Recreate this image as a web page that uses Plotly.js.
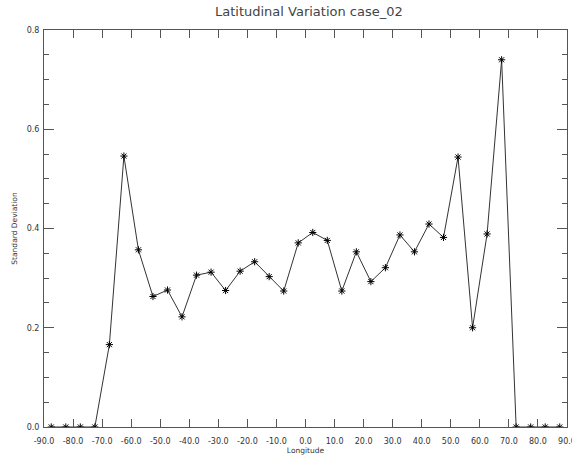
<!DOCTYPE html>
<html>
<head>
<meta charset="utf-8">
<script src="https://cdn.plot.ly/plotly-3.0.1.min.js"></script>
<style>html,body{margin:0;padding:0;background:#fff;}#chart{width:572px;height:455px;}</style>
</head>
<body>
<div id="chart"></div>
<script>
const longitude = [-87.5,-82.5,-77.5,-72.5,-67.5,-62.5,-57.5,-52.5,-47.5,-42.5,-37.5,-32.5,-27.5,-22.5,-17.5,-12.5,-7.5,-2.5,
                   2.5,7.5,12.5,17.5,22.5,27.5,32.5,37.5,42.5,47.5,52.5,57.5,62.5,67.5,72.5,77.5,82.5,87.5];
const stdDev = [0,0,0,0,0.166,0.546,0.357,0.263,0.276,0.222,0.306,0.312,0.275,0.314,0.333,0.303,0.274,0.371,
                0.392,0.376,0.274,0.353,0.293,0.321,0.387,0.353,0.409,0.382,0.544,0.200,0.389,0.740,0,0,0,0];
const xTickVals = [-90,-80,-70,-60,-50,-40,-30,-20,-10,0,10,20,30,40,50,60,70,80,90];
const xTickText = ["-90.0","-80.0","-70.0","-60.0","-50.0","-40.0","-30.0","-20.0","-10.0","0.0","10.0","20.0","30.0","40.0","50.0","60.0","70.0","80.0","90.0"];
const yTickVals = [0,0.2,0.4,0.6,0.8];
const yTickText = ["0.0","0.2","0.4","0.6","0.8"];

const font = "DejaVu Sans, sans-serif";
const trace = {
  x: longitude, y: stdDev, type: 'scatter', mode: 'lines+markers',
  line: {color: '#333', width: 1},
  marker: {symbol: 'asterisk-open', size: 6, color: '#000', line: {color: '#000', width: 1}},
  cliponaxis: true, hoverinfo: 'none'
};
const layout = {
  width: 572, height: 455,
  margin: {l: 44, r: 5, t: 30, b: 28},
  paper_bgcolor: '#fff', plot_bgcolor: '#fff',
  showlegend: false,
  title: {text: 'Latitudinal Variation case_02', font: {family: font, size: 13, color: '#444'}, x: 0.54, xanchor: 'center', y: 0.985, yanchor: 'top'},
  xaxis: {
    range: [-90, 90], tickvals: xTickVals, ticktext: xTickText,
    ticks: 'inside', ticklen: 8, tickcolor: '#555', tickwidth: 1,
    showline: true, linecolor: '#555', linewidth: 1, mirror: 'ticks',
    showgrid: false, zeroline: false,
    ticklabelstandoff: 6, ticklabeloverflow: 'allow',
    tickfont: {family: font, size: 8, color: '#333'},
    title: {text: 'Longitude', font: {family: font, size: 7.5, color: '#333'}, standoff: 1}
  },
  yaxis: {
    range: [0, 0.8], tickvals: yTickVals, ticktext: yTickText,
    ticks: 'inside', ticklen: 10, tickcolor: '#555', tickwidth: 1,
    minor: {dtick: 0.05, ticks: 'inside', ticklen: 5, tickcolor: '#555', showgrid: false},
    showline: true, linecolor: '#555', linewidth: 1, mirror: 'ticks',
    showgrid: false, zeroline: false,
    ticklabelstandoff: 2,
    tickfont: {family: font, size: 8, color: '#333'},
    title: {text: 'Standard Deviation', font: {family: font, size: 7.5, color: '#333'}, standoff: 8}
  }
};
Plotly.newPlot('chart', [trace], layout, {staticPlot: true, displayModeBar: false});
</script>
</body>
</html>
